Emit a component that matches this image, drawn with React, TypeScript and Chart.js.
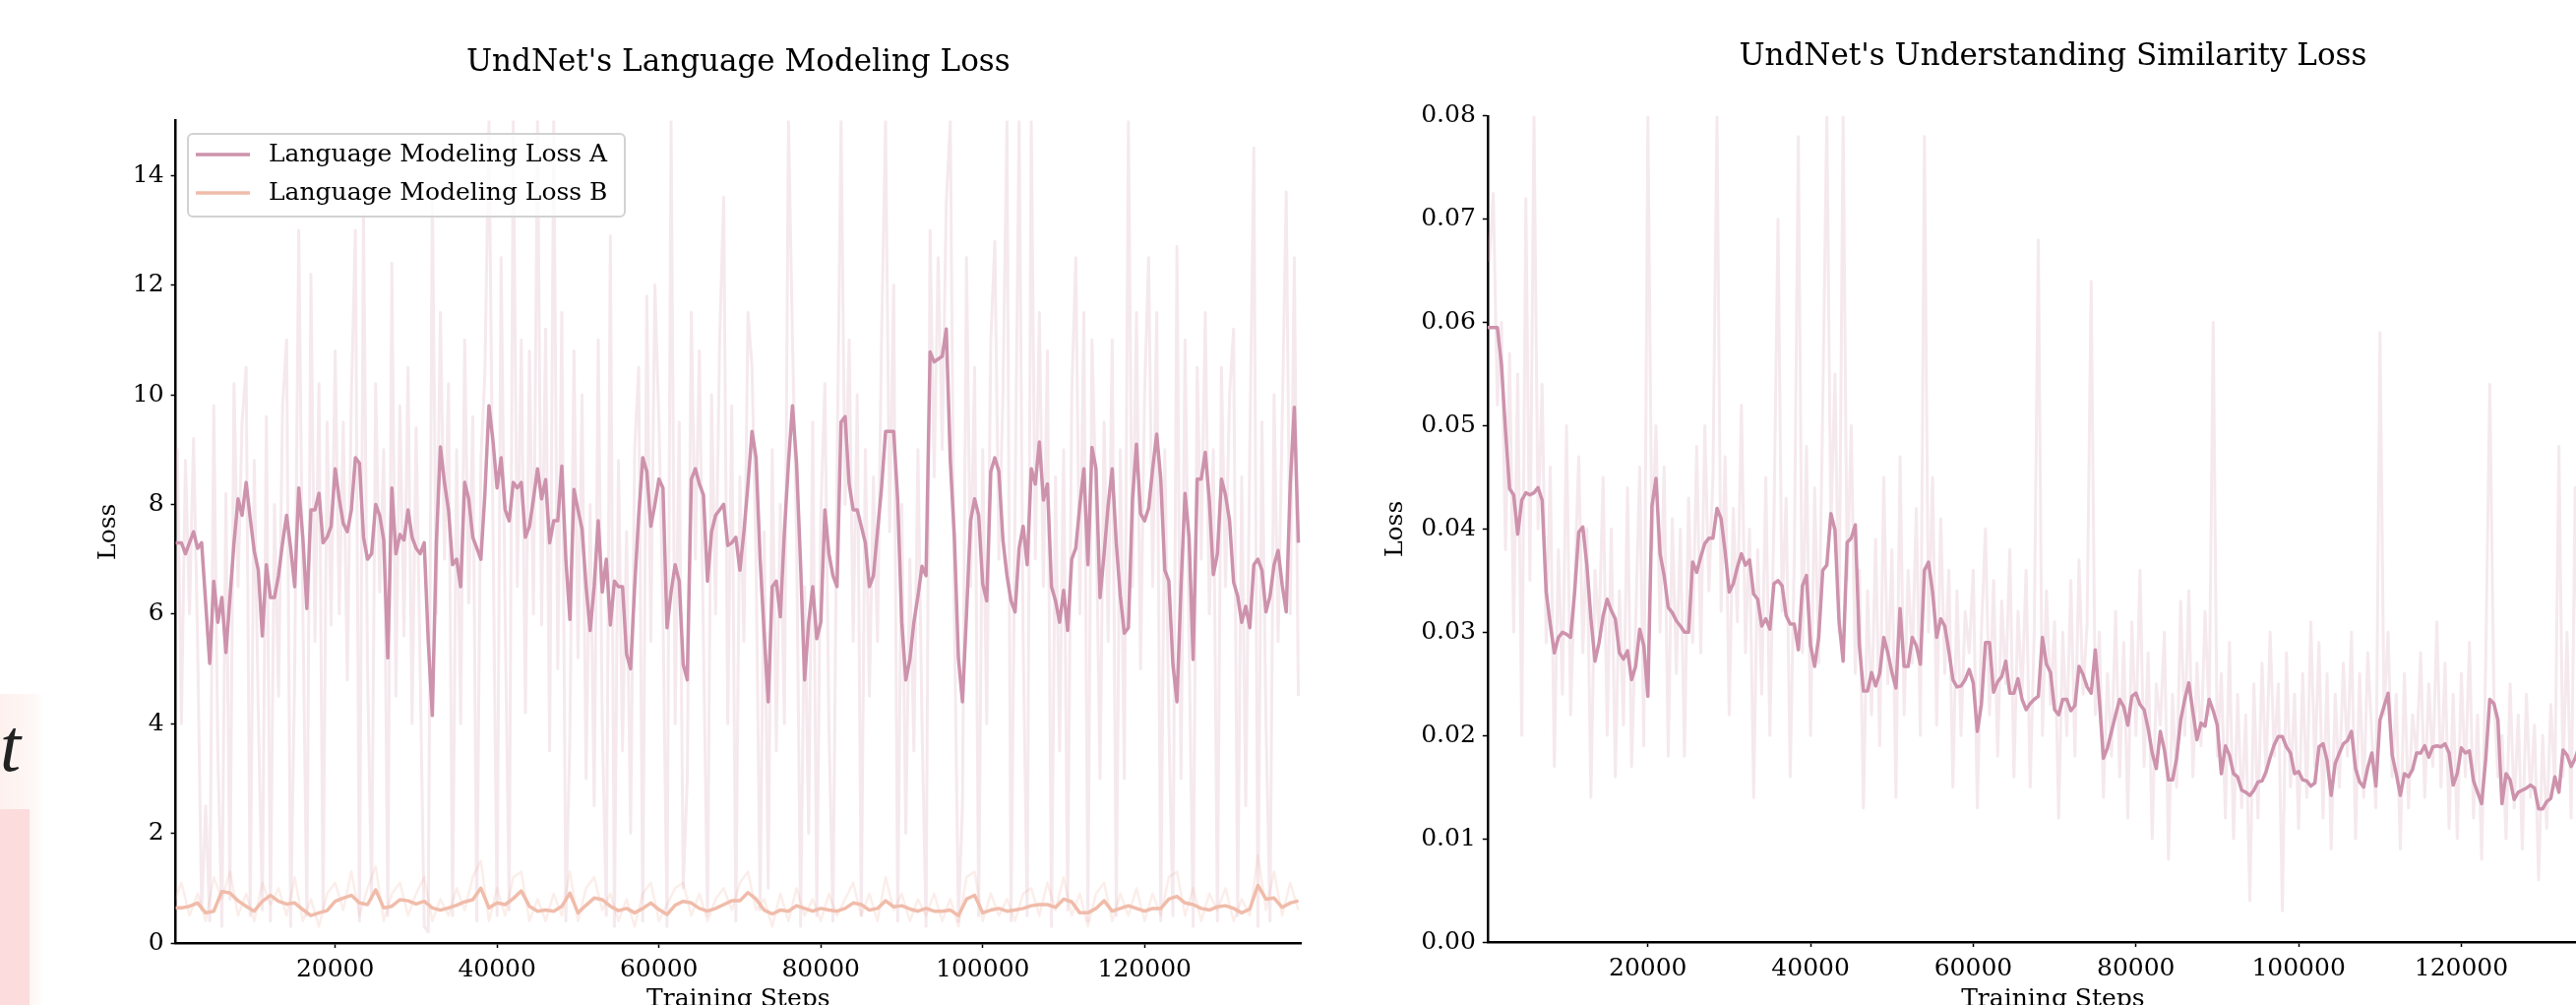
import React, { useEffect, useRef } from 'react';
import { Chart, registerables } from 'chart.js';

Chart.register(...registerables);

// ---------------- DATA ----------------
// logging interval (training steps between stored values)
const FINE_INTERVAL = 500;
const COARSE_INTERVAL = 1000;

const lmTitle = "UndNet's Language Modeling Loss";
const simTitle = "UndNet's Understanding Similarity Loss";
const seriesLabelA = 'Language Modeling Loss A';
const seriesLabelB = 'Language Modeling Loss B';
const xAxisLabel = 'Training Steps';
const yAxisLabel = 'Loss';

const stepTicks = [20000, 40000, 60000, 80000, 100000, 120000];
const lmLossTicks = [0, 2, 4, 6, 8, 10, 12, 14];
const simLossTicks = [0, 0.01, 0.02, 0.03, 0.04, 0.05, 0.06, 0.07, 0.08];

// Language modeling loss A, smoothed (every 500 steps)
const lmLossA_smoothed = [
  7.3, 7.3, 7.3, 7.1, 7.3, 7.5, 7.2, 7.3, 6.2, 5.1,
  6.6, 5.85, 6.3, 5.3, 6.3, 7.3, 8.1, 7.8, 8.4, 7.75,
  7.15, 6.8, 5.6, 6.9, 6.3, 6.3, 6.7, 7.3, 7.8, 7.2,
  6.5, 8.3, 7.4, 6.1, 7.9, 7.9, 8.2, 7.3, 7.4, 7.6,
  8.65, 8.1, 7.65, 7.5, 7.9, 8.85, 8.75, 7.4, 7.0, 7.1,
  8.0, 7.8, 7.35, 5.2, 8.3, 7.1, 7.45, 7.35, 7.9, 7.4,
  7.2, 7.1, 7.3, 5.5, 4.15, 7.3, 9.05, 8.4, 7.9, 6.9,
  7.0, 6.5, 8.4, 8.1, 7.4, 7.2, 7.0, 8.2, 9.8, 9.15,
  8.3, 8.85, 7.9, 7.7, 8.4, 8.3, 8.4, 7.4, 7.6, 8.1,
  8.65, 8.1, 8.45, 7.3, 7.7, 7.7, 8.7, 7.0, 5.9, 8.27,
  7.9, 7.55, 6.5, 5.7, 6.5, 7.7, 6.4, 7.0, 5.8, 6.6,
  6.5, 6.5, 5.27, 5.0, 6.5, 7.8, 8.85, 8.6, 7.6, 8.0,
  8.46, 8.3, 5.75, 6.4, 6.9, 6.6, 5.08, 4.8, 8.46, 8.65,
  8.37, 8.17, 6.6, 7.5, 7.8, 7.9, 8.0, 7.25, 7.3, 7.4,
  6.8, 7.5, 8.37, 9.33, 8.85, 7.0, 5.65, 4.4, 6.5, 6.6,
  5.95, 7.5, 8.75, 9.8, 8.75, 6.9, 4.8, 5.85, 6.5, 5.55,
  5.85, 7.9, 7.1, 6.7, 6.5, 9.5, 9.6, 8.37, 7.9, 7.9,
  7.6, 7.3, 6.5, 6.7, 7.5, 8.3, 9.33, 9.33, 9.33, 8.08,
  5.85, 4.8, 5.17, 5.85, 6.33, 6.87, 6.7, 10.78, 10.6, 10.65,
  10.7, 11.2, 8.8, 7.4, 5.2, 4.4, 6.0, 7.7, 8.1, 7.8,
  6.55, 6.24, 8.6, 8.85, 8.6, 7.35, 6.7, 6.24, 6.04, 7.2,
  7.6, 6.9, 8.65, 8.37, 9.14, 8.08, 8.37, 6.5, 6.24, 5.85,
  6.43, 5.7, 7.0, 7.2, 7.98, 8.65, 6.9, 9.04, 8.65, 6.3,
  7.1, 7.98, 8.65, 7.3, 6.33, 5.65, 5.75, 8.08, 9.1, 7.83,
  7.7, 7.93, 8.65, 9.28, 8.46, 6.8, 6.6, 5.08, 4.4, 6.5,
  8.2, 7.4, 5.17, 8.46, 8.46, 8.95, 8.08, 6.72, 7.1, 8.46,
  8.17, 7.7, 6.58, 6.33, 5.85, 6.14, 5.75, 6.9, 7.0, 6.8,
  6.04, 6.33, 6.9, 7.16, 6.53, 6.04, 8.37, 9.77, 7.3,
];

// Language modeling loss A, raw (every 500 steps)
const lmLossA_raw = [
  7.3, 9.0, 4.0, 8.8, 6.0, 9.2, 5.5, 0.6, 2.5, 0.4,
  9.8, 3.5, 0.3, 8.2, 0.8, 10.2, 6.5, 9.5, 10.5, 0.5,
  8.8, 4.2, 0.6, 9.6, 0.4, 8.0, 4.5, 9.8, 11.0, 0.3,
  5.0, 13.0, 6.2, 0.5, 12.2, 5.5, 10.2, 0.6, 9.5, 5.8,
  10.8, 6.0, 9.5, 4.8, 10.0, 13.0, 0.4, 13.3, 5.0, 0.8,
  10.2, 6.4, 9.0, 0.5, 12.4, 4.5, 9.8, 5.6, 10.5, 4.0,
  9.4, 5.0, 0.3, 0.2, 13.8, 6.0, 11.5, 7.0, 10.2, 0.5,
  9.0, 4.0, 11.0, 6.2, 9.6, 0.4, 8.8, 10.4, 15, 7.5,
  0.5, 12.5, 6.0, 0.6, 15, 6.5, 11.0, 4.2, 10.8, 6.0,
  15, 5.8, 11.2, 3.5, 15, 5.0, 11.5, 0.4, 3.8, 10.8,
  5.2, 10.0, 3.0, 8.0, 2.5, 11.0, 4.0, 0.5, 12.9, 0.3,
  8.8, 3.5, 7.5, 2.0, 9.0, 10.5, 0.4, 11.8, 5.5, 12.0,
  9.5, 6.0, 0.3, 15, 4.0, 9.5, 1.0, 3.0, 11.5, 7.0,
  10.8, 5.5, 0.5, 10.0, 6.0, 11.0, 13.6, 4.0, 9.8, 0.4,
  8.5, 5.5, 11.5, 10.5, 7.0, 0.6, 7.5, 1.0, 9.0, 3.5,
  8.0, 4.0, 15, 11.0, 7.5, 0.3, 6.5, 2.0, 9.5, 0.5,
  7.8, 10.2, 4.0, 0.4, 8.5, 15, 8.0, 11.0, 5.5, 10.0,
  0.5, 9.0, 4.5, 8.5, 5.5, 11.0, 15, 7.5, 12.0, 0.4,
  8.0, 2.0, 7.0, 3.5, 9.0, 4.0, 0.3, 13.0, 8.5, 12.5,
  9.0, 13.5, 15, 6.0, 0.4, 2.5, 12.5, 6.5, 10.5, 0.5,
  9.0, 4.0, 11.0, 12.8, 7.0, 10.0, 15, 0.4, 8.0, 15,
  5.5, 0.5, 15, 7.0, 11.5, 6.5, 10.8, 0.3, 8.5, 3.5,
  9.0, 0.6, 10.0, 12.5, 6.0, 11.5, 0.4, 11.0, 8.0, 3.0,
  9.5, 5.5, 11.0, 0.5, 9.0, 3.0, 15, 6.5, 11.5, 5.0,
  10.0, 12.5, 6.5, 11.5, 0.4, 9.0, 4.0, 0.5, 12.7, 3.0,
  11.0, 5.5, 0.3, 10.5, 7.0, 11.5, 6.0, 9.0, 0.4, 10.5,
  6.5, 10.0, 11.2, 0.5, 8.5, 2.5, 9.0, 14.5, 0.3, 9.5,
  4.0, 0.4, 10.0, 5.5, 9.5, 13.7, 6.0, 12.5, 4.5,
];

// Language modeling loss B, smoothed (every 1000 steps)
const lmLossB_smoothed = [
  0.64, 0.64, 0.67, 0.73, 0.55, 0.58, 0.94, 0.91, 0.77, 0.67,
  0.58, 0.76, 0.87, 0.76, 0.71, 0.73, 0.61, 0.50, 0.55, 0.59,
  0.76, 0.82, 0.87, 0.73, 0.70, 0.97, 0.64, 0.67, 0.79, 0.77,
  0.71, 0.76, 0.64, 0.60, 0.64, 0.69, 0.75, 0.79, 1.0, 0.64,
  0.73, 0.70, 0.81, 0.95, 0.67, 0.58, 0.60, 0.58, 0.67, 0.91,
  0.55, 0.69, 0.82, 0.79, 0.67, 0.59, 0.63, 0.55, 0.63, 0.73,
  0.61, 0.52, 0.69, 0.76, 0.73, 0.63, 0.58, 0.63, 0.70, 0.77,
  0.77, 0.92, 0.80, 0.60, 0.53, 0.60, 0.58, 0.68, 0.63, 0.58,
  0.63, 0.60, 0.58, 0.63, 0.73, 0.70, 0.60, 0.63, 0.77, 0.66,
  0.68, 0.62, 0.58, 0.63, 0.58, 0.58, 0.60, 0.50, 0.80, 0.87,
  0.55, 0.60, 0.63, 0.58, 0.60, 0.63, 0.68, 0.70, 0.70, 0.65,
  0.80, 0.75, 0.55, 0.55, 0.63, 0.77, 0.58, 0.63, 0.68, 0.63,
  0.58, 0.63, 0.63, 0.80, 0.85, 0.73, 0.70, 0.63, 0.60, 0.66,
  0.68, 0.63, 0.55, 0.62, 1.05, 0.80, 0.82, 0.65, 0.73, 0.77,
];

// Language modeling loss B, raw (every 1000 steps)
const lmLossB_raw = [
  0.7, 1.1, 0.5, 0.9, 0.4, 1.2, 0.8, 1.3, 0.5, 0.9,
  0.4, 1.1, 0.7, 1.0, 0.5, 1.2, 0.4, 0.8, 0.3, 0.9,
  1.1, 0.6, 1.3, 0.5, 1.0, 1.4, 0.4, 0.9, 1.1, 0.5,
  0.9, 1.2, 0.4, 0.8, 0.5, 1.0, 0.6, 1.2, 1.5, 0.4,
  1.0, 0.5, 1.2, 1.3, 0.4, 0.8, 0.4, 0.9, 0.5, 1.3,
  0.4, 1.0, 1.2, 0.6, 0.9, 0.4, 0.8, 0.3, 0.9, 1.1,
  0.4, 0.7, 1.0, 1.1, 0.5, 0.9, 0.4, 0.8, 1.0, 0.6,
  1.1, 1.3, 0.6, 0.8, 0.3, 0.9, 0.4, 1.0, 0.5, 0.8,
  0.4, 0.9, 0.5, 0.8, 1.1, 0.5, 0.9, 0.4, 1.2, 0.6,
  0.9, 0.4, 0.8, 0.5, 0.9, 0.4, 0.8, 0.3, 1.2, 1.3,
  0.4, 0.9, 0.5, 0.8, 0.4, 0.9, 1.0, 0.5, 1.1, 0.6,
  1.2, 0.5, 0.9, 0.3, 0.9, 1.1, 0.4, 0.9, 0.5, 1.0,
  0.4, 0.9, 0.5, 1.2, 1.3, 0.5, 1.0, 0.4, 0.9, 0.6,
  1.0, 0.4, 0.8, 0.5, 1.6, 0.6, 1.3, 0.5, 1.1, 0.6,
];

// Understanding similarity loss, smoothed (every 500 steps)
const simLoss_smoothed = [
  0.0595, 0.0595, 0.0595, 0.0595, 0.0559, 0.0495, 0.0439, 0.0433, 0.0395, 0.0428,
  0.0435, 0.0433, 0.0435, 0.0440, 0.0428, 0.0339, 0.0308, 0.0280, 0.0295, 0.0300,
  0.0298, 0.0295, 0.0339, 0.0397, 0.0402, 0.0365, 0.0313, 0.0272, 0.0290, 0.0316,
  0.0332, 0.0321, 0.0313, 0.0280, 0.0274, 0.0282, 0.0254, 0.0267, 0.0303, 0.0287,
  0.0238, 0.0422, 0.0449, 0.0376, 0.0355, 0.0324, 0.0319, 0.0311, 0.0306, 0.0300,
  0.0300, 0.0368, 0.0358, 0.0373, 0.0386, 0.0391, 0.0391, 0.0420, 0.0410, 0.0378,
  0.0339, 0.0347, 0.0363, 0.0376, 0.0365, 0.0370, 0.0337, 0.0332, 0.0306, 0.0313,
  0.0303, 0.0347, 0.0350, 0.0345, 0.0316, 0.0308, 0.0308, 0.0283, 0.0345, 0.0355,
  0.0287, 0.0267, 0.0295, 0.0360, 0.0365, 0.0415, 0.0399, 0.0311, 0.0272, 0.0387,
  0.0391, 0.0404, 0.0287, 0.0243, 0.0243, 0.0261, 0.0248, 0.0260, 0.0295, 0.0280,
  0.0261, 0.0246, 0.0323, 0.0267, 0.0267, 0.0295, 0.0287, 0.0269, 0.0360, 0.0368,
  0.0339, 0.0295, 0.0313, 0.0306, 0.0282, 0.0254, 0.0247, 0.0248, 0.0254, 0.0264,
  0.0251, 0.0204, 0.0230, 0.0290, 0.0290, 0.0242, 0.0252, 0.0257, 0.0272, 0.0241,
  0.0241, 0.0255, 0.0235, 0.0225, 0.0231, 0.0235, 0.0238, 0.0295, 0.0269, 0.0261,
  0.0225, 0.0220, 0.0235, 0.0235, 0.0224, 0.0229, 0.0267, 0.0259, 0.0247, 0.0241,
  0.0283, 0.0235, 0.0178, 0.0188, 0.0204, 0.0220, 0.0235, 0.0228, 0.0210, 0.0238,
  0.0241, 0.0230, 0.0225, 0.0207, 0.0183, 0.0168, 0.0204, 0.0186, 0.0157, 0.0157,
  0.0178, 0.0215, 0.0235, 0.0251, 0.0223, 0.0196, 0.0212, 0.0209, 0.0235, 0.0224,
  0.0210, 0.0163, 0.0190, 0.0181, 0.0163, 0.0160, 0.0147, 0.0145, 0.0142, 0.0147,
  0.0155, 0.0156, 0.0165, 0.0179, 0.0191, 0.0199, 0.0199, 0.0189, 0.0183, 0.0163,
  0.0165, 0.0157, 0.0156, 0.0151, 0.0154, 0.0189, 0.0192, 0.0176, 0.0142, 0.0173,
  0.0183, 0.0192, 0.0195, 0.0204, 0.0168, 0.0155, 0.0150, 0.0169, 0.0183, 0.0151,
  0.0215, 0.0228, 0.0241, 0.0181, 0.0163, 0.0142, 0.0163, 0.0160, 0.0167, 0.0183,
  0.0183, 0.0190, 0.0179, 0.0189, 0.0190, 0.0189, 0.0192, 0.0183, 0.0152, 0.0163,
  0.0188, 0.0183, 0.0185, 0.0156, 0.0145, 0.0134, 0.0177, 0.0235, 0.0231, 0.0215,
  0.0134, 0.0163, 0.0157, 0.0138, 0.0145, 0.0147, 0.0149, 0.0152, 0.0149, 0.0129,
  0.0129, 0.0136, 0.0139, 0.0160, 0.0145, 0.0186, 0.0181, 0.0170, 0.0178, 0.0190,
  0.0182, 0.0175, 0.0188, 0.0195, 0.0180, 0.0172, 0.0185, 0.0196, 0.0189,
];

// Understanding similarity loss, raw (every 500 steps)
const simLoss_raw = [
  0.070, 0.066, 0.0725, 0.052, 0.060, 0.038, 0.057, 0.030, 0.055, 0.020,
  0.072, 0.035, 0.080, 0.040, 0.054, 0.029, 0.046, 0.017, 0.038, 0.024,
  0.050, 0.022, 0.035, 0.047, 0.028, 0.040, 0.014, 0.036, 0.030, 0.045,
  0.020, 0.040, 0.016, 0.034, 0.021, 0.044, 0.017, 0.031, 0.046, 0.019,
  0.080, 0.038, 0.050, 0.030, 0.046, 0.018, 0.041, 0.026, 0.040, 0.018,
  0.043, 0.029, 0.048, 0.028, 0.050, 0.034, 0.045, 0.080, 0.032, 0.047,
  0.022, 0.042, 0.031, 0.052, 0.028, 0.040, 0.014, 0.038, 0.024, 0.045,
  0.020, 0.041, 0.070, 0.032, 0.043, 0.016, 0.037, 0.078, 0.028, 0.048,
  0.020, 0.044, 0.027, 0.052, 0.080, 0.040, 0.055, 0.030, 0.080, 0.035,
  0.050, 0.026, 0.036, 0.013, 0.034, 0.022, 0.039, 0.019, 0.045, 0.025,
  0.038, 0.014, 0.047, 0.022, 0.036, 0.027, 0.042, 0.020, 0.078, 0.030,
  0.045, 0.021, 0.041, 0.026, 0.036, 0.015, 0.034, 0.020, 0.032, 0.028,
  0.036, 0.013, 0.030, 0.040, 0.022, 0.035, 0.018, 0.033, 0.025, 0.038,
  0.016, 0.032, 0.024, 0.036, 0.015, 0.030, 0.068, 0.020, 0.034, 0.023,
  0.031, 0.012, 0.030, 0.020, 0.035, 0.018, 0.037, 0.024, 0.031, 0.064,
  0.022, 0.030, 0.014, 0.026, 0.018, 0.032, 0.016, 0.029, 0.012, 0.031,
  0.020, 0.036, 0.017, 0.028, 0.010, 0.025, 0.021, 0.030, 0.008, 0.024,
  0.015, 0.033, 0.020, 0.034, 0.016, 0.027, 0.019, 0.032, 0.022, 0.060,
  0.018, 0.026, 0.012, 0.029, 0.010, 0.024, 0.013, 0.022, 0.004, 0.025,
  0.012, 0.027, 0.016, 0.030, 0.018, 0.025, 0.003, 0.028, 0.015, 0.024,
  0.011, 0.026, 0.014, 0.031, 0.017, 0.029, 0.012, 0.026, 0.009, 0.024,
  0.015, 0.027, 0.018, 0.030, 0.010, 0.026, 0.014, 0.028, 0.020, 0.013,
  0.059, 0.022, 0.030, 0.016, 0.024, 0.009, 0.026, 0.013, 0.022, 0.018,
  0.028, 0.014, 0.025, 0.017, 0.031, 0.015, 0.027, 0.011, 0.024, 0.010,
  0.026, 0.016, 0.029, 0.012, 0.022, 0.008, 0.027, 0.054, 0.024, 0.016,
  0.020, 0.010, 0.025, 0.013, 0.022, 0.009, 0.024, 0.014, 0.021, 0.006,
  0.020, 0.011, 0.023, 0.015, 0.048, 0.016, 0.030, 0.012, 0.044, 0.020,
  0.014, 0.025, 0.011, 0.022, 0.016, 0.027, 0.012, 0.024, 0.018,
];

// ---------------- STYLE ----------------
const FONT = "'DejaVu Serif', serif";
const COLOR_A = 'rgb(205,146,172)';
const COLOR_A_FAINT = 'rgba(205,146,172,0.2)';
const COLOR_B = 'rgb(240,188,170)';
const COLOR_B_FAINT = 'rgba(240,188,170,0.25)';

function toPoints(values: number[], interval: number) {
  return values.map((y, i) => ({ x: i * interval, y }));
}

const insetLegendPlugin = {
  id: 'insetLegend',
  afterDatasetsDraw(chart: any, _args: any, opts: any) {
    if (!opts || !opts.display) return;
    const entries = chart.data.datasets.filter((d: any) => d.inLegend);
    const ctx = chart.ctx;
    const x0 = chart.chartArea.left + opts.offsetX;
    const y0 = chart.chartArea.top + opts.offsetY;
    ctx.save();
    ctx.beginPath();
    if (ctx.roundRect) ctx.roundRect(x0, y0, opts.width, opts.height, opts.radius);
    else ctx.rect(x0, y0, opts.width, opts.height);
    ctx.fillStyle = opts.background;
    ctx.fill();
    ctx.lineWidth = opts.borderWidth;
    ctx.strokeStyle = opts.borderColor;
    ctx.stroke();
    entries.forEach((d: any, k: number) => {
      const cy = y0 + opts.firstRow + k * opts.rowSpacing;
      ctx.beginPath();
      ctx.moveTo(x0 + opts.sampleStart, cy);
      ctx.lineTo(x0 + opts.sampleEnd, cy);
      ctx.strokeStyle = d.borderColor;
      ctx.lineWidth = d.borderWidth;
      ctx.lineCap = 'butt';
      ctx.stroke();
      ctx.fillStyle = '#000';
      ctx.font = `${opts.fontSize}px ${FONT}`;
      ctx.textBaseline = 'middle';
      ctx.textAlign = 'left';
      ctx.fillText(d.label, x0 + opts.textStart, cy);
    });
    ctx.restore();
  },
};

function xScale(min: number, max: number, boxHeight: number) {
  return {
    type: 'linear',
    min,
    max,
    afterBuildTicks: (s: any) => {
      s.ticks = stepTicks.map((v) => ({ value: v }));
    },
    afterFit: (s: any) => {
      s.height = boxHeight;
    },
    grid: { display: true, drawOnChartArea: false, drawTicks: true, tickLength: 5, tickColor: '#000', tickWidth: 1.5 },
    border: { display: true, color: '#000', width: 2.5 },
    ticks: {
      padding: 7,
      color: '#000',
      maxRotation: 0,
      autoSkip: false,
      font: { family: FONT, size: 25 },
      callback: (v: any) => String(v),
    },
    title: {
      display: true,
      text: xAxisLabel,
      color: '#000',
      font: { family: FONT, size: 25 },
      padding: { top: 0, bottom: 30 },
    },
  };
}

function yScale(min: number, max: number, ticks: number[], boxWidth: number, titleOffset: number, fmt: (v: number) => string) {
  return {
    type: 'linear',
    min,
    max,
    afterBuildTicks: (s: any) => {
      s.ticks = ticks.map((v) => ({ value: v }));
    },
    afterFit: (s: any) => {
      s.width = boxWidth;
    },
    grid: { display: true, drawOnChartArea: false, drawTicks: true, tickLength: 5, tickColor: '#000', tickWidth: 1.5 },
    border: { display: true, color: '#000', width: 2.5 },
    ticks: {
      padding: 7,
      color: '#000',
      autoSkip: false,
      font: { family: FONT, size: 25 },
      callback: (v: any) => fmt(Number(v)),
    },
    title: {
      display: true,
      text: yAxisLabel,
      color: '#000',
      font: { family: FONT, size: 25 },
      padding: { top: titleOffset, bottom: 0 },
    },
  };
}

function lineDataset(label: string, values: number[], interval: number, color: string, width: number, order: number, inLegend: boolean) {
  return {
    label,
    data: toPoints(values, interval),
    borderColor: color,
    backgroundColor: color,
    borderWidth: width,
    pointRadius: 0,
    pointHoverRadius: 0,
    tension: 0,
    fill: false,
    order,
    inLegend,
    borderJoinStyle: 'round',
  };
}

function lmConfig(): any {
  return {
    type: 'line',
    data: {
      datasets: [
        lineDataset(seriesLabelA, lmLossA_smoothed, FINE_INTERVAL, COLOR_A, 3.5, 0, true),
        lineDataset(seriesLabelB, lmLossB_smoothed, COARSE_INTERVAL, COLOR_B, 3.5, 1, true),
        lineDataset(seriesLabelA + ' (raw)', lmLossA_raw, FINE_INTERVAL, COLOR_A_FAINT, 3, 2, false),
        lineDataset(seriesLabelB + ' (raw)', lmLossB_raw, COARSE_INTERVAL, COLOR_B_FAINT, 2.5, 3, false),
      ],
    },
    plugins: [insetLegendPlugin],
    options: {
      responsive: false,
      maintainAspectRatio: false,
      animation: false,
      devicePixelRatio: 1,
      layout: { padding: { left: 0, right: 23, top: 0, bottom: 0 } },
      scales: {
        x: xScale(300, 139300, 102),
        y: yScale(0, 15, lmLossTicks, 178.6, 95, (v) => String(v)),
      },
      plugins: {
        legend: { display: false },
        tooltip: { enabled: false },
        title: {
          display: true,
          fullSize: false,
          text: lmTitle,
          color: '#000',
          font: { family: FONT, size: 31, weight: 'normal' },
          padding: { top: 45.4, bottom: 39.9 },
        },
        insetLegend: {
          display: true,
          offsetX: 12.4,
          offsetY: 13.5,
          width: 444,
          height: 84,
          radius: 5,
          background: 'rgba(255,255,255,0.8)',
          borderColor: '#d2d2d2',
          borderWidth: 2,
          firstRow: 21,
          rowSpacing: 39,
          sampleStart: 8,
          sampleEnd: 63,
          textStart: 82,
          fontSize: 25,
        },
      },
    },
  };
}

function simConfig(): any {
  return {
    type: 'line',
    data: {
      datasets: [
        lineDataset('Understanding Similarity Loss', simLoss_smoothed, FINE_INTERVAL, COLOR_A, 3.5, 0, false),
        lineDataset('Understanding Similarity Loss (raw)', simLoss_raw, FINE_INTERVAL, COLOR_A_FAINT, 3, 1, false),
      ],
    },
    options: {
      responsive: false,
      maintainAspectRatio: false,
      animation: false,
      devicePixelRatio: 1,
      layout: { padding: { left: 0, right: 10, top: 0, bottom: 0 } },
      scales: {
        x: xScale(290, 139300, 103),
        y: yScale(0, 0.08, simLossTicks, 131.8, 23.5, (v) => v.toFixed(2)),
      },
      plugins: {
        legend: { display: false },
        tooltip: { enabled: false },
        title: {
          display: true,
          fullSize: false,
          text: simTitle,
          color: '#000',
          font: { family: FONT, size: 31, weight: 'normal' },
          padding: { top: 38.9, bottom: 41.7 },
        },
      },
    },
  };
}

function ChartCanvas({ makeConfig, left, top, width, height }: any) {
  const ref = useRef<HTMLCanvasElement | null>(null);
  useEffect(() => {
    if (!ref.current) return;
    const chart = new Chart(ref.current, makeConfig());
    return () => chart.destroy();
  }, []);
  return (
    <canvas
      ref={ref}
      width={width}
      height={height}
      style={{ position: 'absolute', left, top, width, height, display: 'block' }}
    />
  );
}

export default function App() {
  return (
    <div
      style={{
        position: 'fixed',
        left: 0,
        top: 0,
        width: 2618,
        height: 1021,
        overflow: 'hidden',
        background: '#fff',
      }}
    >
      {/* cropped fragment of a neighbouring figure at the far left edge */}
      <div style={{ position: 'absolute', left: 0, top: 705, width: 44, height: 316, background: 'linear-gradient(to right, #fdf1ee, #fef8f6 80%, #fff)' }} />
      <div style={{ position: 'absolute', left: 0, top: 822, width: 30, height: 199, background: '#fcdcdc' }} />
      <div style={{ position: 'absolute', left: 0, top: 719, fontFamily: "'Liberation Serif', serif", fontStyle: 'italic', fontSize: 76, lineHeight: 1, color: '#222' }}>t</div>
      <ChartCanvas makeConfig={lmConfig} left={0} top={0} width={1345} height={1060} />
      <ChartCanvas makeConfig={simConfig} left={1380} top={0} width={1291} height={1060} />
    </div>
  );
}
